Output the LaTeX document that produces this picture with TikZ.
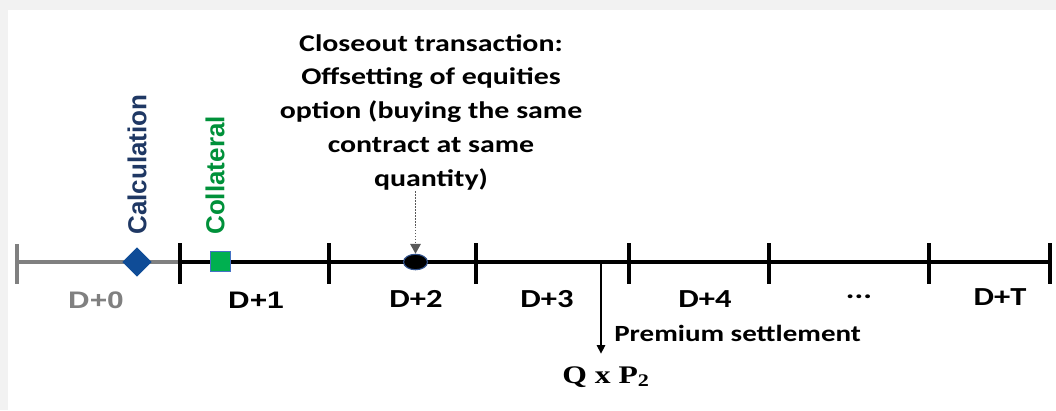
\documentclass[tikz,border=0pt]{standalone}
\usepackage{fontspec}
\setmainfont{Carlito}
\newfontfamily\calibw[FakeStretch=1.25]{Carlito}
\newfontfamily\arialw[FakeStretch=1.25]{Liberation Sans}
\newfontfamily\arialn{Liberation Sans}
\newfontfamily\serifw[FakeStretch=1.25]{Liberation Serif}
\usetikzlibrary{arrows.meta,positioning,shapes.geometric}
\definecolor{calcblue}{HTML}{1F3864}
\definecolor{diablue}{HTML}{0F4C97}
\definecolor{colgreen}{HTML}{00913A}
\definecolor{sqgreen}{HTML}{00B050}
\definecolor{rimblue}{HTML}{4472C4}
\definecolor{pagegray}{HTML}{F2F2F2}

\begin{document}
\begin{tikzpicture}[
  x=0.025cm, y=-0.025cm,
  tickmark/.style={line width=2.8pt},
  dayA/.style={font=\arialw\bfseries\fontsize{17}{20}\selectfont, inner sep=0pt},
  dayB/.style={font=\calibw\bfseries\fontsize{18.5}{22}\selectfont, inner sep=0pt},
  vlabel/.style={font=\arialn\bfseries\fontsize{18.5}{22}\selectfont, rotate=90, anchor=west, inner sep=0pt},
  note/.style={font=\calibw\bfseries\fontsize{17}{24}\selectfont, align=center, inner sep=0pt},
  arr/.style={-{Triangle[length=6pt,width=6pt]}, line width=0.8pt}
]
% page background
\fill[pagegray] (0,0) rectangle (1056,410);
\fill[white] (8,10) rectangle (1056,410);
\useasboundingbox (0,0) rectangle (1056,410);

% timeline
\coordinate (t0) at (17,262);
\coordinate (t1) at (180,262);
\coordinate (t2) at (329,262);
\coordinate (t3) at (476,262);
\coordinate (t4) at (629,262);
\coordinate (t5) at (769,262);
\coordinate (t6) at (929,262);
\coordinate (t7) at (1050,262);
\draw[gray, line width=2.2pt] (t0) -- (t1);
\draw[line width=2.2pt] (t1) -- (t7);
\draw[tickmark, gray] ([yshift=12.8pt]t0) -- ([yshift=-15.6pt]t0);
\foreach \t in {t1,t2,t3,t4,t5,t6,t7}
  \draw[tickmark] ([yshift=13.5pt]\t) -- ([yshift=-15.6pt]\t);

% markers
\node[diamond, fill=diablue, minimum width=21pt, minimum height=21pt, inner sep=0pt] (calcdia) at (137,262) {};
\node[rectangle, fill=sqgreen, draw=rimblue, line width=0.5pt, minimum size=14pt, inner sep=0pt] (colsq) at (220.5,261) {};
\node[ellipse, fill=black, draw=rimblue!70!black, line width=0.8pt, minimum width=17pt, minimum height=11pt, inner sep=0pt] (dot) at (415.5,262) {};

\node[vlabel, text=calcblue] (calc) at ([yshift=8.5pt]calcdia.north) {Calculation};
\node[vlabel, text=colgreen] (coll) at (215,235) {Collateral};

% day labels
\node[dayA, text=gray] (d0) at (96,300) {D+0};
\node[dayA] (d1) at (256,300) {D+1};
\node[dayB] (d2) at (416,299) {D+2};
\node[dayB] (d3) at (547,299) {D+3};
\node[dayB] (d4) at (705,299) {D+4};
\node[dayB] (d5) at (859,297) {...};
\node[dayB] (d6) at (1000,297) {D+T};

% closeout
\node[note] (close) at (431,112) {Closeout transaction:\\Offsetting of equities\\option (buying the same\\contract at same\\quantity)};
\draw[-{Triangle[length=7pt,width=7.5pt]}, densely dotted, gray!70!black, line width=1.1pt] ([yshift=-1pt]close.south -| dot) -- (dot.north);

% premium settlement
\coordinate (ps) at (601,262);
\node[font=\serifw\bfseries\fontsize{18}{21}\selectfont, inner sep=0pt] (qp) at (606,377) {Q x P\textsubscript{2}};
\draw[arr] (ps) -- ([yshift=9pt]ps |- qp.north);
\node[font=\calibw\bfseries\fontsize{16.5}{20}\selectfont, anchor=west, inner sep=0pt] (prem) at (614,333) {Premium settlement};
\end{tikzpicture}
\end{document}
